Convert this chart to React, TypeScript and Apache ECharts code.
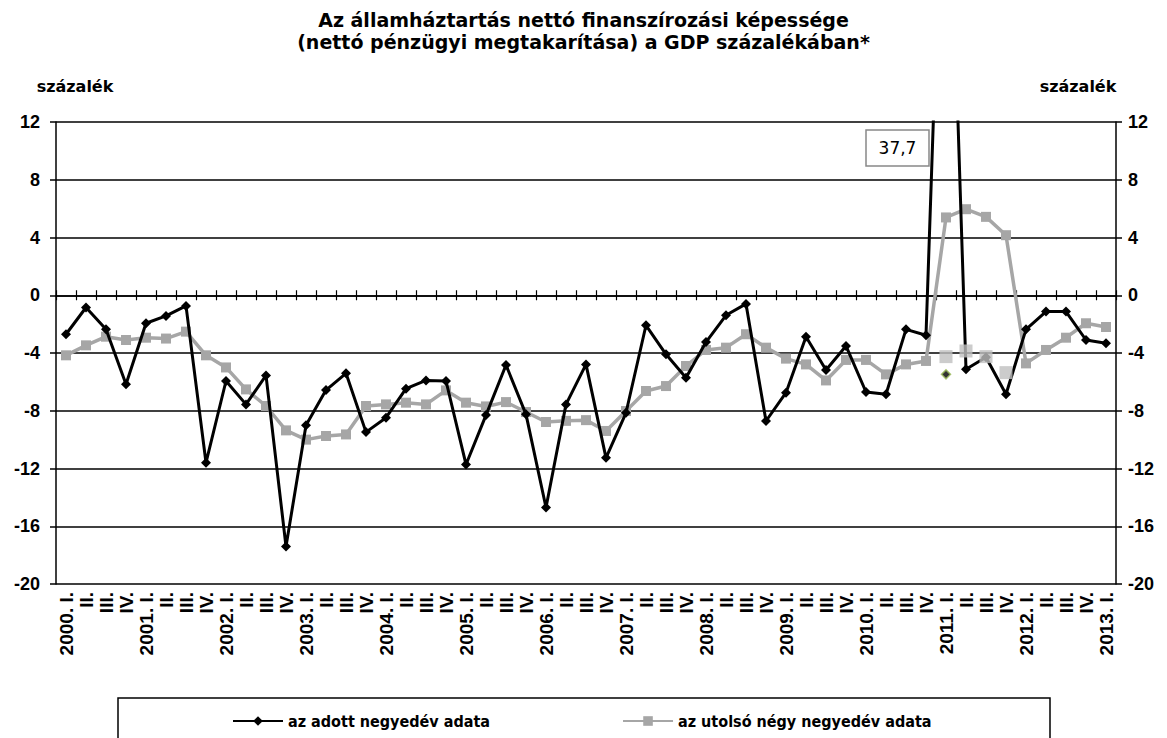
import React, { useEffect, useRef } from "react";
import * as echarts from "echarts";

const years = [2000, 2001, 2002, 2003, 2004, 2005, 2006, 2007, 2008, 2009, 2010, 2011, 2012, 2013];
const quarterNames = ["I.", "II.", "III.", "IV."];
const categories: string[] = [];
years.forEach((y) => {
  quarterNames.forEach((q, qi) => {
    if (y === 2013 && qi > 0) return;
    categories.push(qi === 0 ? `${y}. ${q}` : q);
  });
});

const quarterly = [
  -2.7, -0.85, -2.36, -6.17, -1.94, -1.43, -0.74, -11.6, -5.94, -7.56, -5.55, -17.4,
  -9.0, -6.57, -5.41, -9.48, -8.48, -6.47, -5.9, -5.94, -11.72, -8.3, -4.83, -8.25,
  -14.7, -7.56, -4.79, -11.26, -8.14, -2.08, -4.09, -5.71, -3.24, -1.39, -0.6, -8.71,
  -6.75, -2.87, -5.18, -3.51, -6.7, -6.86, -2.36, -2.77, 37.7, -5.13, -4.3, -6.86,
  -2.36, -1.13, -1.13, -3.1, -3.33,
];

const fourQuarter = [
  -4.16, -3.47, -2.87, -3.1, -2.94, -3.0, -2.52, -4.16, -5.0, -6.52, -7.67, -9.36,
  -10.0, -9.75, -9.64, -7.67, -7.56, -7.44, -7.56, -6.59, -7.44, -7.7, -7.4, -8.09,
  -8.78, -8.7, -8.65, -9.4, -8.02, -6.63, -6.29, -4.9, -3.79, -3.63, -2.7, -3.63,
  -4.39, -4.79, -5.9, -4.48, -4.48, -5.48, -4.79, -4.55, 5.39, 5.96, 5.43, 4.16,
  -4.72, -3.79, -2.94, -1.94, -2.2,
];

// extra unlinked markers in 2011
const altFourQuarter: (number | null)[] = categories.map((_, i) =>
  i === 44 ? -4.25 : i === 45 ? -3.86 : i === 46 ? -4.25 : i === 47 ? -5.36 : null
);
const altQuarterly: (number | null)[] = categories.map((_, i) => (i === 44 ? -5.48 : null));

const spikeLabel = "37,7";
const yTicks = { min: -20, max: 12, interval: 4 };

export default function App() {
  const ref = useRef<HTMLDivElement>(null);
  useEffect(() => {
    if (!ref.current) return;
    const chart = echarts.init(ref.current, null, { renderer: "svg" });
    const yAxisBase = {
      type: "value" as const,
      min: yTicks.min,
      max: yTicks.max,
      interval: yTicks.interval,
      axisLine: { show: true, lineStyle: { color: "#000", width: 1.5 } },
      axisTick: { show: true, length: 6, lineStyle: { color: "#000", width: 1.5 } },
      axisLabel: { color: "#000", fontWeight: "bold", fontSize: 18, fontFamily: "Liberation Sans" },
    };
    chart.setOption({
      animation: false,
      backgroundColor: "#fff",
      title: {
        text: "Az államháztartás nettó finanszírozási képessége\n(nettó pénzügyi megtakarítása) a GDP százalékában*",
        left: "center",
        top: 4,
        textStyle: { fontFamily: "DejaVu Sans", fontWeight: "bold", color: "#000", fontSize: 19, lineHeight: 22 },
      },
      grid: { left: 56, right: 51, top: 122, bottom: 154, containLabel: false },
      xAxis: [
        {
          type: "category",
          data: categories,
          boundaryGap: true,
          axisLine: { show: true, lineStyle: { color: "#000", width: 1.5 } },
          axisTick: { show: true, length: 5, interval: 0, lineStyle: { color: "#000", width: 1.2 } },
          axisLabel: {
            interval: 0,
            rotate: 90,
            fontFamily: "Liberation Sans",
            fontWeight: "bold",
            fontSize: 19,
            color: "#000",
            margin: 8,
          },
          splitLine: { show: false },
        },
        {
          type: "category",
          data: categories,
          position: "bottom",
          boundaryGap: true,
          axisLine: { show: false },
          axisTick: { show: true, inside: true, length: 5, interval: 0, lineStyle: { color: "#000", width: 1.2 } },
          axisLabel: { show: false },
          splitLine: { show: false },
        },
      ],
      yAxis: [
        {
          ...yAxisBase,
          position: "left",
          axisLabel: { ...yAxisBase.axisLabel, margin: 16 },
          splitLine: { show: true, lineStyle: { color: "#000", width: 1.5 } },
        },
        {
          ...yAxisBase,
          position: "right",
          axisLabel: { ...yAxisBase.axisLabel, margin: 12 },
          splitLine: { show: false },
        },
      ],
      legend: {
        top: 708,
        left: 227,
        itemGap: 132,
        itemWidth: 50,
        itemHeight: 12,
        textStyle: { fontFamily: "DejaVu Sans Condensed, DejaVu Sans", fontWeight: "bold", fontSize: 16, color: "#000" },
        data: ["az adott negyedév adata", "az utolsó négy negyedév adata"],
      },
      graphic: [
        {
          type: "rect",
          shape: { x: 118, y: 698, width: 932, height: 60 },
          style: { fill: "none", stroke: "#000", lineWidth: 1.5 },
          silent: true,
        },
        {
          type: "text",
          x: 75,
          y: 86,
          style: { text: "százalék", fill: "#000", textAlign: "center", textVerticalAlign: "middle", font: "bold 16px DejaVu Sans" },
        },
        {
          type: "text",
          x: 1078,
          y: 86,
          style: { text: "százalék", fill: "#000", textAlign: "center", textVerticalAlign: "middle", font: "bold 16px DejaVu Sans" },
        },
        {
          type: "rect",
          shape: { x: 866, y: 130, width: 63, height: 36 },
          style: { fill: "#fff", stroke: "#888", lineWidth: 1.5 },
          z: 100,
        },
        {
          type: "text",
          x: 897.5,
          y: 148,
          style: { text: spikeLabel, fill: "#000", textAlign: "center", textVerticalAlign: "middle", font: "17px DejaVu Sans" },
          z: 101,
        },
      ],
      series: [
        {
          name: "az adott negyedév adata",
          type: "line",
          data: quarterly,
          symbol: "diamond",
          symbolSize: 10,
          showAllSymbol: true,
          lineStyle: { color: "#000", width: 3 },
          itemStyle: { color: "#000" },
          z: 3,
        },
        {
          name: "az utolsó négy negyedév adata",
          type: "line",
          data: fourQuarter,
          symbol: "rect",
          symbolSize: 10,
          showAllSymbol: true,
          lineStyle: { color: "#a6a6a6", width: 3.5 },
          itemStyle: { color: "#a6a6a6" },
          z: 2,
        },
        {
          name: "alt4",
          type: "scatter",
          data: altFourQuarter,
          symbol: "rect",
          symbolSize: 13,
          itemStyle: { color: "#bfbfbf" },
          z: 4,
        },
        {
          name: "alt1",
          type: "scatter",
          data: altQuarterly,
          symbol: "diamond",
          symbolSize: 9,
          itemStyle: { color: "#000", borderColor: "#9bbb59", borderWidth: 1.5 },
          z: 5,
        },
      ],
    });
    return () => chart.dispose();
  }, []);
  return <div ref={ref} style={{ position: "fixed", left: 0, top: 0, width: 1167, height: 738 }} />;
}
